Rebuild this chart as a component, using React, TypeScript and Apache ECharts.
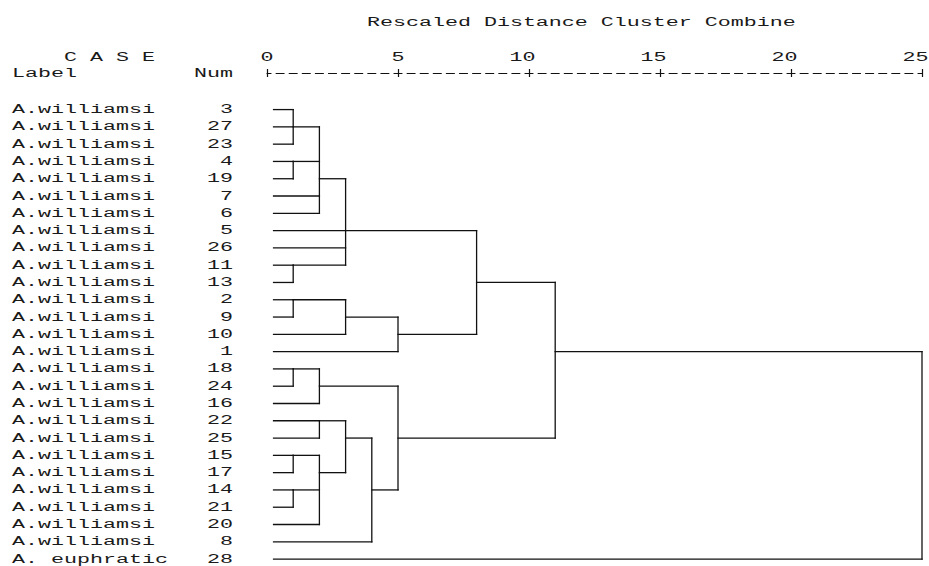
import React, { useEffect, useRef } from 'react';
import * as echarts from 'echarts';

// ---- data ----
const caseLabels = [
  'A.williamsi', 'A.williamsi', 'A.williamsi', 'A.williamsi', 'A.williamsi', 'A.williamsi',
  'A.williamsi', 'A.williamsi', 'A.williamsi', 'A.williamsi', 'A.williamsi', 'A.williamsi',
  'A.williamsi', 'A.williamsi', 'A.williamsi', 'A.williamsi', 'A.williamsi', 'A.williamsi',
  'A.williamsi', 'A.williamsi', 'A.williamsi', 'A.williamsi', 'A.williamsi', 'A.williamsi',
  'A.williamsi', 'A.williamsi', 'A. euphratic',
];
const caseNums = [3, 27, 23, 4, 19, 7, 6, 5, 26, 11, 13, 2, 9, 10, 1, 18, 24, 16, 22, 25, 15, 17, 14, 21, 20, 8, 28];

// merges: children refs < 100 are case numbers, >= 100 are earlier merges (100 + index)
const mergeHeights = [1, 1, 2, 1, 3, 1, 3, 5, 8, 1, 2, 2, 1, 1, 2, 3, 4, 5, 11, 25];
const mergeChildren = [
  [3, 27, 23],
  [4, 19],
  [100, 101, 7, 6],
  [11, 13],
  [102, 5, 26, 103],
  [2, 9],
  [105, 10],
  [106, 1],
  [104, 107],
  [18, 24],
  [109, 16],
  [22, 25],
  [15, 17],
  [14, 21],
  [112, 113, 20],
  [111, 114],
  [115, 8],
  [110, 116],
  [108, 117],
  [118, 28],
];
// row (0 = top case) where each merged cluster's line continues to the right
const mergeRows = [1, 3, 4, 9, 7, 11, 12, 13, 10, 15, 16, 18, 20, 22, 21, 19, 22, 19, 14, 14];
const leafStart = 0.25;

const tickValues = [0, 5, 10, 15, 20, 25];
const titleText = 'Rescaled Distance Cluster Combine';

// ---- styles ----
const FONT_FAMILY = '"Liberation Mono", "DejaVu Sans Mono", monospace';
const FS = 12.5;
const SX = 13 / (0.6 * FS);
const FONT = `${FS}px ${FONT_FAMILY}`;
const INK = '#111';
const TEXT_INK = '#1a1a1a';

function buildSegments() {
  const segs: number[][] = [];
  const refX = (r: number) => (r >= 100 ? mergeHeights[r - 100] : leafStart);
  const refRow = (r: number) => (r >= 100 ? mergeRows[r - 100] : caseNums.indexOf(r));
  mergeChildren.forEach((kids, k) => {
    const h = mergeHeights[k];
    const rows = kids.map(refRow);
    segs.push([h, Math.min(...rows), h, Math.max(...rows)]);
    kids.forEach((c) => {
      const r = refRow(c);
      segs.push([refX(c), r, h, r]);
    });
  });
  return segs;
}

function txt(text: string, x: number, y: number, align: string) {
  return {
    type: 'text',
    x,
    y,
    scaleX: SX,
    style: {
      text,
      x: 0,
      y: 0,
      font: FONT,
      fill: TEXT_INK,
      align,
      textAlign: align,
      verticalAlign: 'middle',
      textVerticalAlign: 'middle',
    },
  };
}

export default function App() {
  const ref = useRef<HTMLDivElement>(null);
  useEffect(() => {
    document.body.style.margin = '0';
    const chart = echarts.init(ref.current!, null, { renderer: 'svg' });
    const segs = buildSegments();
    const axisCommon = {
      type: 'value',
      position: 'top',
      min: 0,
      max: 25,
      interval: 5,
      offset: 2,
      axisLabel: { show: false },
      splitLine: { show: false },
    };
    const option = {
      animation: false,
      backgroundColor: '#fff',
      grid: { left: 267, right: 7, top: 75, bottom: 0, containLabel: false },
      xAxis: [
        {
          ...axisCommon,
          axisLine: { show: true, onZero: false, lineStyle: { color: INK, width: 1.2, type: [8, 5.1], dashOffset: 4 } },
          axisTick: { show: true, length: 4, lineStyle: { color: INK, width: 1.2 } },
        },
        {
          ...axisCommon,
          axisLine: { show: false, onZero: false },
          axisTick: { show: true, inside: true, length: 4, lineStyle: { color: INK, width: 1.2 } },
        },
      ],
      yAxis: { type: 'value', inverse: true, min: -2, max: 26.4, show: false },
      graphic: [
        txt(titleText, 367, 22, 'left'),
        txt('C A S E', 64, 57, 'left'),
        txt('Label', 12, 73, 'left'),
        txt('Num', 233, 73, 'right'),
      ],
      series: [
        {
          type: 'custom',
          name: 'links',
          xAxisIndex: 0,
          data: segs.map((s) => [s[0], s[1]]),
          renderItem: (params: any, api: any) => {
            const s = segs[params.dataIndex];
            const p1 = api.coord([s[0], s[1]]);
            const p2 = api.coord([s[2], s[3]]);
            return {
              type: 'line',
              shape: { x1: p1[0], y1: p1[1], x2: p2[0], y2: p2[1] },
              style: { stroke: INK, lineWidth: 1.3, lineCap: 'square' },
            };
          },
        },
        {
          type: 'custom',
          name: 'cases',
          xAxisIndex: 0,
          data: caseNums.map((_, i) => [0, i]),
          renderItem: (params: any, api: any) => {
            const i = params.dataIndex;
            const y = api.coord([0, i])[1];
            return {
              type: 'group',
              children: [
                txt(caseLabels[i], 12, y, 'left'),
                txt(String(caseNums[i]), 233, y, 'right'),
              ],
            };
          },
        },
        {
          type: 'custom',
          name: 'ticks',
          xAxisIndex: 0,
          data: tickValues.map((v) => [v, 0]),
          renderItem: (params: any, api: any) => {
            const v = tickValues[params.dataIndex];
            const x = api.coord([v, 0])[0];
            return txt(String(v), x + 6.5, 57, 'right');
          },
        },
      ],
    };
    chart.setOption(option as any);
    return () => chart.dispose();
  }, []);
  return <div ref={ref} style={{ width: 929, height: 566, position: 'absolute', left: 0, top: 0 }} />;
}
